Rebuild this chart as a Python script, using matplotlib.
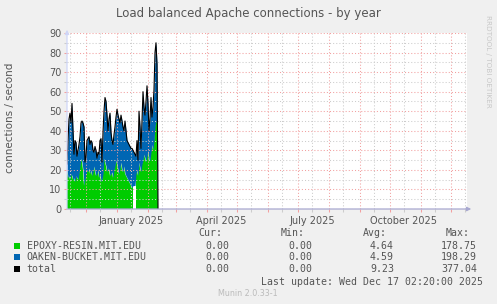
import datetime as dt

import matplotlib
matplotlib.use("Agg")
from matplotlib import pyplot as plt
import matplotlib.dates as mdates
from matplotlib.patches import Rectangle
import numpy as np
import pandas as pd

# --- data (one value per day) ---
start = dt.datetime(2024, 11, 12, 2, 20)
end = dt.datetime(2025, 12, 17, 2, 20)

epoxy = [20, 16, 17, 15, 18, 17, 15, 16, 14, 17, 16, 15, 18, 22, 26, 24, 20, 12, 15,
         18, 20, 19, 21, 18, 20, 17, 19, 22, 19, 17, 18, 20, 16, 18, 14, 15, 18, 26,
         24, 22, 19, 21, 20, 17, 18, 19, 16, 20, 22, 25, 23, 20, 18, 21, 24, 20, 19,
         22, 18, 17, 16, 15, 14, 13, 12, 11, 12, np.nan, np.nan, 18, 20, 17, 24, 21,
         19, 23, 25, 28, 26, 24, 27, 30, 25, 25, 29, 33, 30, 35, 42, 45, 44, 0]
oaken = [3, 19, 29, 34, 26, 37, 25, 12, 21, 17, 11, 15, 15, 15, 18, 21, 24, 30, 9,
         9, 15, 17, 16, 15, 15, 17, 11, 7, 13, 13, 8, 9, 12, 17, 22, 9, 21, 24,
         33, 33, 29, 19, 26, 32, 21, 16, 17, 18, 20, 22, 28, 28, 28, 23, 24, 25, 23,
         18, 27, 23, 19, 19, 19, 19, 19, 20, 18, 17, 16, 9, 15, 8, 26, 21,
         12, 22, 35, 24, 22, 31, 36, 24, 15, 21, 28, 14, 22, 26, 38, 40, 30, 0]

hosts = ["EPOXY-RESIN.MIT.EDU", "OAKEN-BUCKET.MIT.EDU", "total"]
cur = ["0.00", "0.00", "0.00"]
mins = ["0.00", "0.00", "0.00"]
avgs = ["4.64", "4.59", "9.23"]
maxs = ["178.75", "198.29", "377.04"]
colors = ["#00CC00", "#0066B3", "#000000"]

days = [start + dt.timedelta(days=i) for i in range(len(epoxy))]
green = np.array(epoxy, dtype=float)
base = pd.Series(green).ffill().to_numpy()
top = base + np.array(oaken, dtype=float)

W, H = 497, 304
fig = plt.figure(figsize=(W / 100, H / 100), dpi=100, facecolor="#F0F0F0")
ax = fig.add_axes([67 / W, (H - 209) / H, 400 / W, 176 / H])
ax.set_facecolor("white")

ax.fill_between(days, 0, green, color=colors[0], lw=0, zorder=1)
ax.fill_between(days, base, top, color=colors[1], lw=0, zorder=1)
ax.plot(days, top, color="black", lw=0.8, zorder=3)

ax.set_xlim(start, end)
ax.set_ylim(0, 90)
ax.set_yticks(np.arange(0, 91, 10))
ax.set_yticks(np.arange(5, 90, 10), minor=True)

ax.xaxis.set_major_locator(mdates.MonthLocator())
ax.xaxis.set_minor_locator(mdates.MonthLocator(bymonthday=15))
ax.xaxis.set_major_formatter(plt.NullFormatter())


def month_label(v, pos):
    d = mdates.num2date(v)
    return d.strftime("%B %Y") if d.month in (1, 4, 7, 10) else ""


ax.xaxis.set_minor_formatter(plt.FuncFormatter(month_label))

ax.grid(which="major", color="#F2A0A0", linestyle=(0, (1, 2)), lw=0.75)
ax.grid(which="minor", color="#CCCCCC", linestyle=(0, (1, 2)), lw=0.75)
ax.set_axisbelow(False)

ax.tick_params(which="major", length=2, width=0.75, color="#F2A0A0",
               labelcolor="#555555", labelsize=7, pad=2)
ax.tick_params(which="minor", length=2, width=0.75, color="#CCCCCC",
               labelcolor="#555555", labelsize=7, pad=2)
ax.tick_params(axis="x", which="minor", pad=3)

for s in ax.spines.values():
    s.set_visible(False)

# axes with arrows like rrdtool
ax.annotate("", xy=(1 + 7 / 400, 0), xytext=(-3 / 400, 0), xycoords="axes fraction",
            arrowprops=dict(arrowstyle="-|>", color="#A8A8D0", lw=0.9, mutation_scale=6),
            annotation_clip=False)
ax.annotate("", xy=(0, 1 + 6 / 176), xytext=(0, -3 / 176), xycoords="axes fraction",
            arrowprops=dict(arrowstyle="-|>", color="#CFD6F8", lw=0.9, mutation_scale=6),
            annotation_clip=False)

fig.text(248 / W, 1 - 13 / H, "Load balanced Apache connections - by year",
         ha="center", va="center", fontsize=8.5, color="#555555")
fig.text(10 / W, 1 - 118 / H, "connections / second", rotation=90,
         ha="center", va="center", fontsize=7.5, color="#555555")
fig.text(488 / W, 1 - 61 / H, "RRDTOOL / TOBI OETIKER", rotation=270,
         ha="center", va="center", fontsize=5.2, color="#C8C8C8")

mono = "DejaVu Sans Mono"
fs = 7.1
tc = "#555555"
col_x = [229, 312, 394, 477]
heads = ["Cur:", "Min:", "Avg:", "Max:"]
for x, h in zip(col_x, heads):
    fig.text((x - 7) / W, 1 - 233 / H, h, ha="right", va="center",
             family=mono, fontsize=fs, color=tc)

rows_y = [245.7, 257.3, 269]
for i, name in enumerate(hosts):
    y = rows_y[i]
    fig.add_artist(Rectangle((14 / W, 1 - (y + 3) / H), 6 / W, 6 / H,
                             transform=fig.transFigure, color=colors[i], lw=0))
    fig.text(26.5 / W, 1 - y / H, name, ha="left", va="center",
             family=mono, fontsize=fs, color=tc)
    for x, v in zip(col_x, [cur[i], mins[i], avgs[i], maxs[i]]):
        fig.text(x / W, 1 - y / H, v, ha="right", va="center",
                 family=mono, fontsize=fs, color=tc)

fig.text(483 / W, 1 - 281.7 / H, "Last update: Wed Dec 17 02:20:00 2025",
         ha="right", va="center", family=mono, fontsize=fs, color=tc)
fig.text(248 / W, 1 - 293.3 / H, "Munin 2.0.33-1", ha="center", va="center",
         fontsize=5.8, color="#BBBBBB")

fig.savefig("out.png", dpi=100, facecolor=fig.get_facecolor())
